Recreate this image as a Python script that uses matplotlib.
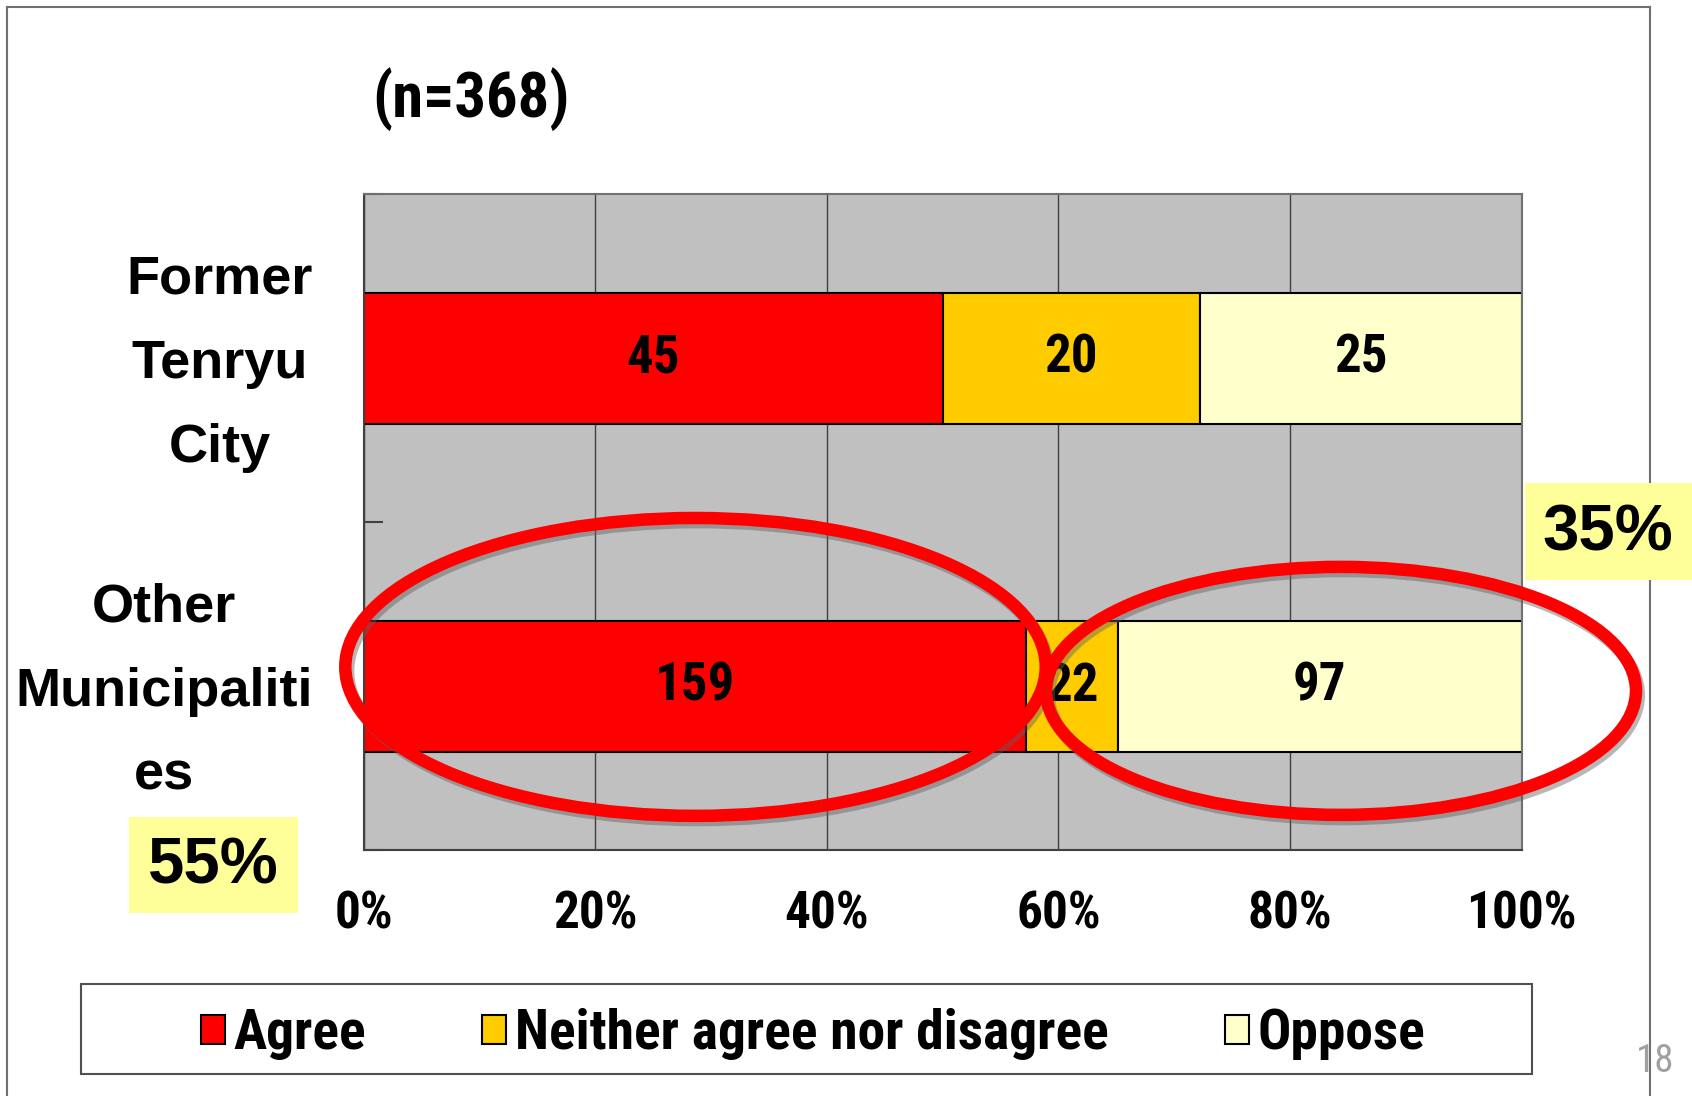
import matplotlib
matplotlib.use('Agg')
import matplotlib.pyplot as plt
import matplotlib.patheffects as pe
import matplotlib.transforms as mtransforms
from matplotlib.patches import Ellipse, Rectangle
from matplotlib.lines import Line2D
from matplotlib.font_manager import FontProperties, fontManager

W, H = 1692, 1096

# data (counts per answer, bottom row first)
groups = ['Other\nMunicipaliti\nes', 'Former\nTenryu\nCity']
answers = ['Agree', 'Neither agree nor disagree', 'Oppose']
agree = [159, 45]
neither = [22, 20]
oppose = [97, 25]
colors = ['#FF0000', '#FFCC00', '#FFFFCC']
ticks = [0, 20, 40, 60, 80, 100]
tick_labels = ['0%', '20%', '40%', '60%', '80%', '100%']
n_label = '(n=368)'
share_left = '55%'
share_right = '35%'
page_no = '18'

# a narrow bold face for the numbers, if one is installed
names = {f.name for f in fontManager.ttflist}
narrow = 'Liberation Sans'
for cand in ['Liberation Sans Narrow', 'Arial Narrow', 'Roboto Condensed', 'Archivo Narrow',
             'PT Sans Narrow', 'IBM Plex Sans Condensed', 'Open Sans Condensed']:
    if cand in names:
        narrow = cand
        break
wide = 'Liberation Sans'


def fx(x):
    return x / W


def fy(y):
    return 1 - y / H


fig = plt.figure(figsize=(W / 100, H / 100), dpi=100)
fig.patch.set_facecolor('white')

ax = fig.add_axes([fx(363.7), fy(850.3), fx(1521.5) - fx(363.7), fy(194.2) - fy(850.3)])
ax.set_facecolor('#C0C0C0')

ypos = list(range(len(groups)))
totals = [a + b + c for a, b, c in zip(agree, neither, oppose)]
left = [0.0] * len(groups)
for vals, name, col in zip([agree, neither, oppose], answers, colors):
    share = [v / t * 100 for v, t in zip(vals, totals)]
    bars = ax.barh(ypos, share, left=left, height=0.4, color=col,
                   edgecolor='black', linewidth=1.5, label=name, zorder=2)
    ax.bar_label(bars, labels=[str(v) for v in vals], label_type='center',
                 fontsize=38, fontweight='bold', family=narrow, zorder=3)
    left = [l + s for l, s in zip(left, share)]

ax.set_xlim(0, 100)
ax.set_ylim(-0.5, 1.5)
ax.set_axisbelow(True)
ax.grid(axis='x', color='#404040', linewidth=1)

ax.set_xticks(ticks, tick_labels)
ax.tick_params(axis='x', length=0, pad=28)
for lbl in ax.get_xticklabels():
    lbl.set_fontproperties(FontProperties(family=narrow, weight='bold', size=37))

# tick marks between the categories, pointing inward
ax.set_yticks([-0.5, 0.5, 1.5])
ax.set_yticklabels([])
ax.tick_params(axis='y', which='major', direction='in', length=14, width=1.5, color='#404040')

# category names, right-aligned block with centred lines
name_trans = mtransforms.offset_copy(ax.get_yaxis_transform(), fig=fig, x=-50.7, y=-5.5,
                                     units='dots')
for y, g in zip(ypos, groups):
    ax.text(0, y, g, transform=name_trans, ha='right', va='center', multialignment='center',
            linespacing=1.87, fontsize=39, fontweight='bold', family=wide)

for side in ['top', 'right', 'left', 'bottom']:
    ax.spines[side].set_color('#707070')
    ax.spines[side].set_linewidth(1.5)
ax.spines['left'].set_color('#404040')
ax.spines['bottom'].set_color('#404040')

# red circles
shadow = [pe.SimpleLineShadow(offset=(2, -3), shadow_color='#606060', alpha=0.45), pe.Normal()]
for cx, cy, w, h in [(28.66, 0.059, 60.5, 0.908), (84.41, -0.014, 50.96, 0.756)]:
    e = Ellipse((cx, cy), w, h, fill=False, edgecolor='#FF0000', linewidth=9,
                clip_on=False, zorder=5)
    e.set_path_effects(shadow)
    ax.add_patch(e)

# outer frame
for xs, ys in [([7, 7], [7, H + 5]), ([7, 1650], [7, 7]), ([1650, 1650], [7, H + 5])]:
    fig.add_artist(Line2D([fx(x) for x in xs], [fy(y) for y in ys], color='#707070',
                          linewidth=1.5, zorder=2))

fig.text(fx(1674), fy(1072), page_no, ha='right', va='baseline', fontsize=28,
         family=narrow, color='#A0A0A0', zorder=1)

fig.text(fx(471), fy(99), n_label, ha='center', va='center', fontsize=45,
         fontweight='bold', family=narrow)

# highlighted shares
fig.add_artist(Rectangle((fx(1525), fy(580)), fx(1692) - fx(1525), fy(483) - fy(580),
                         facecolor='#FFFF99', edgecolor='none', zorder=3))
fig.text(fx(1608), fy(533), share_right, ha='center', va='center', fontsize=47,
         fontweight='bold', family=wide, zorder=4)
fig.add_artist(Rectangle((fx(129), fy(913)), fx(298) - fx(129), fy(817) - fy(913),
                         facecolor='#FFFF99', edgecolor='none', zorder=3))
fig.text(fx(213), fy(867), share_left, ha='center', va='center', fontsize=47,
         fontweight='bold', family=wide, zorder=4)

# legend
fig.add_artist(Rectangle((fx(81), fy(1074)), fx(1532) - fx(81), fy(984) - fy(1074),
                         facecolor='white', edgecolor='#505050', linewidth=1.5, zorder=3))
leg = fig.legend(loc='center', bbox_to_anchor=(fx(813), fy(1034)), ncol=3, frameon=False,
                 prop=FontProperties(family=narrow, weight='bold', size=40),
                 handlelength=0.43, handleheight=0.43, handletextpad=0.16,
                 columnspacing=2.09)
leg.set_zorder(4)

fig.savefig('out.png', dpi=100)
